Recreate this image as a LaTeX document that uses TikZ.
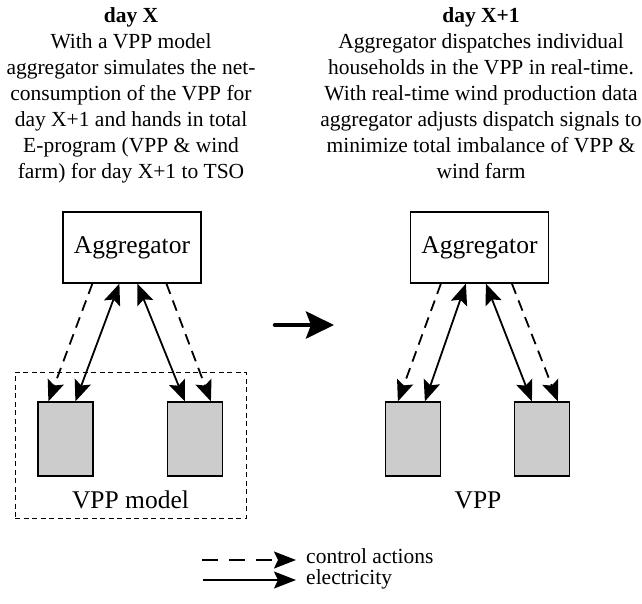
\documentclass[tikz,border=0pt]{standalone}
\usepackage{fontspec}
\setmainfont{Liberation Serif}
\usetikzlibrary{arrows.meta}
\begin{document}
\begin{tikzpicture}[x=1pt,y=-1pt,
  titletext/.style={align=center,inner sep=0pt,anchor=north,font=\fontsize{21.5}{26}\selectfont},
  aggbox/.style={draw,line width=1.2pt,minimum width=138pt,minimum height=71pt,inner sep=0pt,font=\fontsize{25.5}{30}\selectfont},
  house/.style={draw,line width=1.2pt,fill=gray!40,minimum width=55pt,minimum height=74pt,inner sep=0pt},
  ctrl/.style={line width=1.8pt,dash pattern=on 11pt off 7pt,-{Stealth[length=21pt,width=17pt,inset=4pt]}},
  elec/.style={line width=1.8pt,{Stealth[length=21pt,width=17pt,inset=4pt]}-{Stealth[length=21pt,width=17pt,inset=4pt]}},
  biglabel/.style={inner sep=0pt,anchor=base,font=\fontsize{25.5}{30}\selectfont},
  legtext/.style={inner sep=0pt,anchor=base west,font=\fontsize{21.5}{26}\selectfont}]
\useasboundingbox (0,0) rectangle (642,603);

% titles
\node[titletext] (t1) at (131,7) {\textbf{day X}\\With a VPP model\\aggregator simulates the net-\\consumption of the VPP for\\day X+1 and hands in total\\E-program (VPP \& wind\\farm) for day X+1 to TSO};
\node[titletext] (t2) at (481,7) {\textbf{day X+1}\\Aggregator dispatches individual\\households in the VPP in real-time.\\With real-time wind production data\\aggregator adjusts dispatch signals to\\minimize total imbalance of VPP \&\\wind farm};

% left side
\node[aggbox] (agg1) at (132,247.5) {Aggregator};
\node[house] (h1) at (65.5,439) {};
\node[house] (h2) at (195,439) {};
\node[draw,line width=1pt,dash pattern=on 5pt off 3.5pt,minimum width=231pt,minimum height=146pt,inner sep=0pt] (model) at (130.5,445) {};
\node[biglabel] (lab1) at (130.5,508) {VPP model};

\draw[ctrl] ([xshift=30pt]agg1.south west) -- ([xshift=11pt]h1.north west);
\draw[elec] ([xshift=57pt]agg1.south west) -- ([xshift=38pt]h1.north west);
\draw[elec] ([xshift=75pt]agg1.south west) -- ([xshift=18pt]h2.north west);
\draw[ctrl] ([xshift=104pt]agg1.south west) -- ([xshift=44pt]h2.north west);

% right side
\node[aggbox] (agg2) at (479.5,247.5) {Aggregator};
\node[house] (h3) at (413,439) {};
\node[house] (h4) at (542,439) {};
\node[biglabel] (lab2) at (478,508) {VPP};

\draw[ctrl] ([xshift=31pt]agg2.south west) -- ([xshift=13pt]h3.north west);
\draw[elec] ([xshift=56pt]agg2.south west) -- ([xshift=40pt]h3.north west);
\draw[elec] ([xshift=76pt]agg2.south west) -- ([xshift=18pt]h4.north west);
\draw[ctrl] ([xshift=102pt]agg2.south west) -- ([xshift=44pt]h4.north west);

% transition arrow
\coordinate (bigA) at (275,325);
\coordinate (bigB) at (334,325);
\draw[line width=4.5pt,line cap=round,-{Stealth[length=28pt,width=27pt,inset=5pt]}] (bigA) -- (bigB);

% legend
\coordinate (l1a) at (202,560);
\coordinate (l1b) at (296,560);
\coordinate (l2a) at (203,580);
\coordinate (l2b) at (296,580);
\draw[line width=1.8pt,dash pattern=on 16pt off 11pt,-{Stealth[length=22pt,width=17pt,inset=4pt]}] (l1a) -- (l1b);
\draw[line width=1.8pt,-{Stealth[length=22pt,width=17pt,inset=4pt]}] (l2a) -- (l2b);
\node[legtext] (lt1) at (306,563) {control actions};
\node[legtext] (lt2) at (306,584) {electricity};
\end{tikzpicture}
\end{document}
